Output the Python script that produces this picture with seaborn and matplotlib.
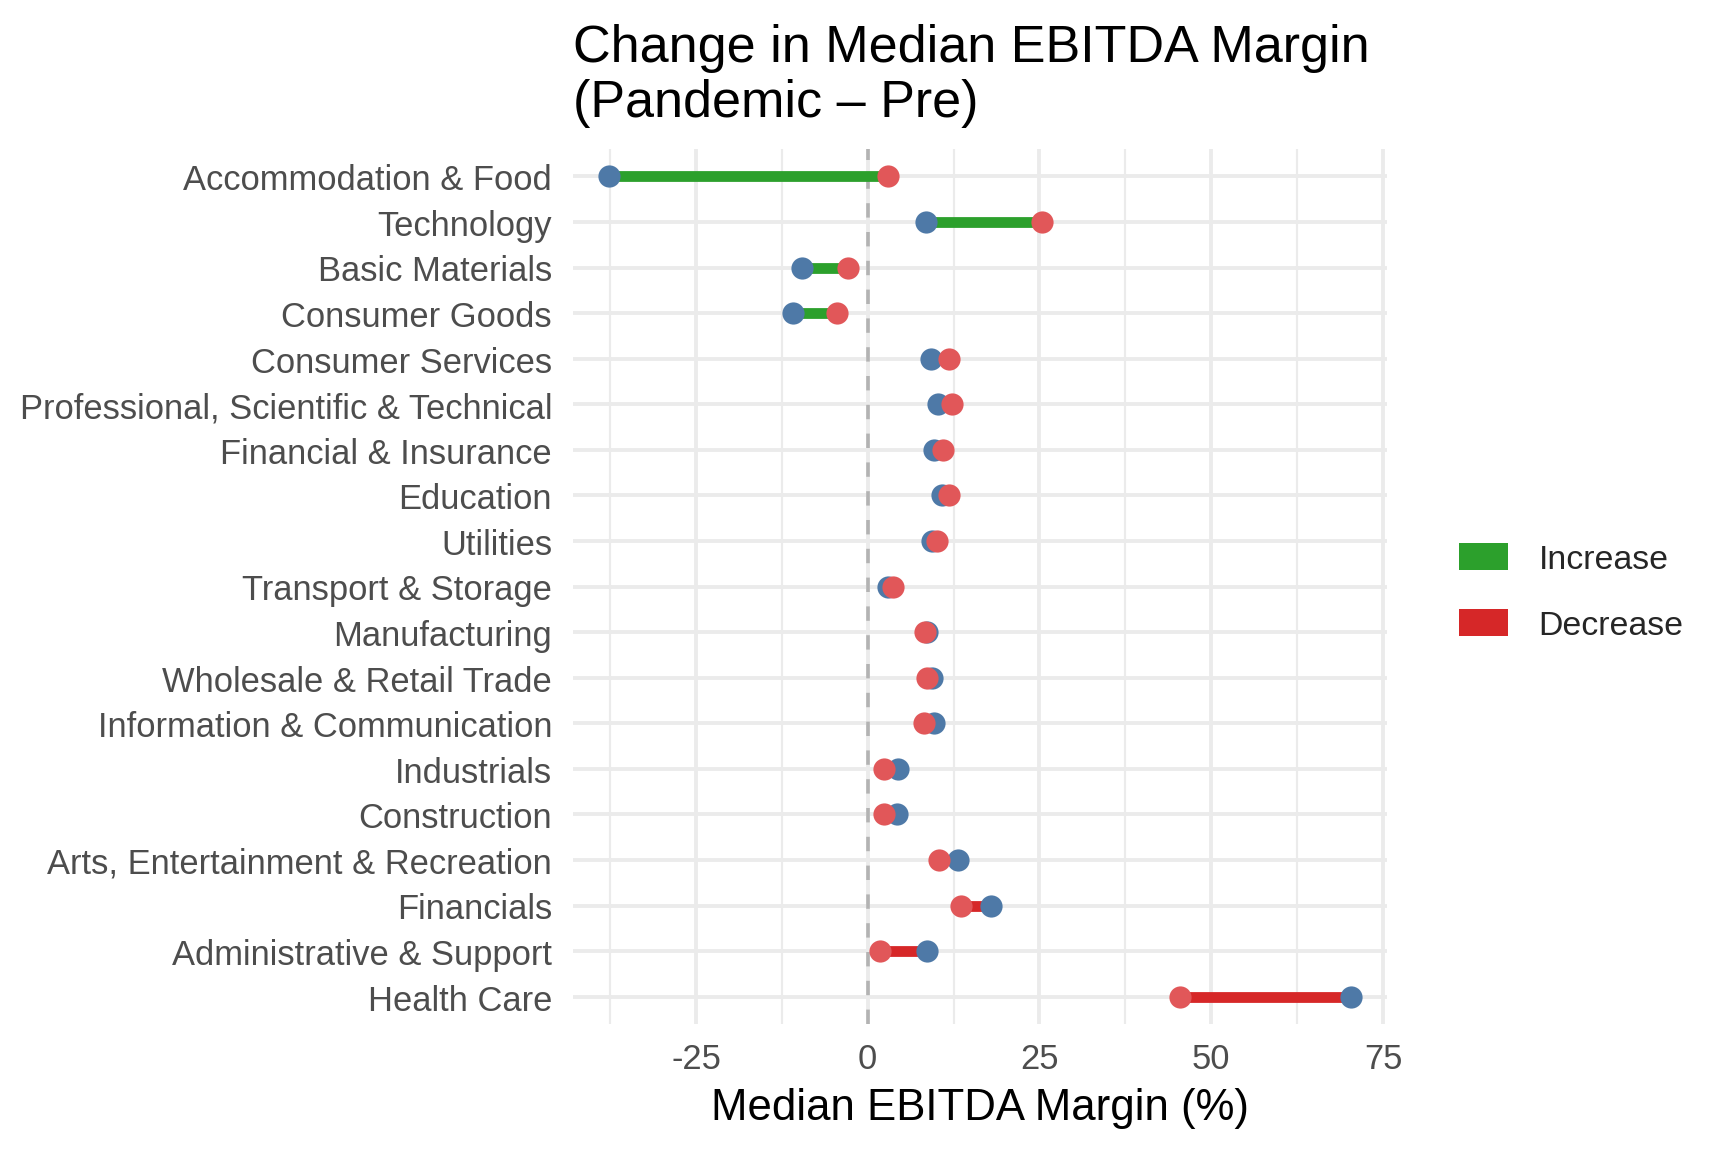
import pandas as pd
import numpy as np
import matplotlib.pyplot as plt
import seaborn as sns
from matplotlib.patches import Patch

sns.set_theme(style="whitegrid")
plt.rcParams['font.family'] = ['Liberation Sans', 'DejaVu Sans']

# %% data
sectors = ['Accommodation & Food', 'Technology', 'Basic Materials', 'Consumer Goods',
           'Consumer Services', 'Professional, Scientific & Technical', 'Financial & Insurance',
           'Education', 'Utilities', 'Transport & Storage', 'Manufacturing',
           'Wholesale & Retail Trade', 'Information & Communication', 'Industrials',
           'Construction', 'Arts, Entertainment & Recreation', 'Financials',
           'Administrative & Support', 'Health Care']
pre = [-37.7, 8.5, -9.5, -10.9, 9.2, 10.3, 9.6, 10.8, 9.3, 2.9, 8.7, 9.3, 9.6,
       4.4, 4.2, 13.2, 18.0, 8.7, 70.4]
pandemic = [2.9, 25.3, -2.8, -4.4, 11.9, 12.2, 11.0, 11.9, 10.1, 3.7, 8.3, 8.7, 8.2,
            2.4, 2.4, 10.4, 13.6, 1.8, 45.5]

df = pd.DataFrame({'sector': sectors, 'pre': pre, 'pandemic': pandemic})
df['change'] = df['pandemic'] - df['pre']
df['direction'] = np.where(df['change'] >= 0, 'Increase', 'Decrease')

seg_cols = {'Increase': '#2CA02C', 'Decrease': '#D62728'}
blue = '#4E79A7'
red = '#E15759'

# %% plot
fig, ax = plt.subplots(figsize=(8, 5.333), dpi=216)
fig.subplots_adjust(left=0.3316, right=0.8027, top=0.8698, bottom=0.1102)

ax.axvline(0, color='#B3B3B3', linestyle=(0, (4, 4)), linewidth=1.2, zorder=1)

ypos = np.arange(len(sectors))
for d, col in seg_cols.items():
    m = (df['direction'] == d).values
    ax.hlines(ypos[m], df['pre'][m], df['pandemic'][m], color=col, linewidth=3.6, zorder=2)

sns.stripplot(data=df, x='pre', y='sector', order=sectors, jitter=False, color=blue,
              size=7.4, linewidth=0, ax=ax, zorder=3)
sns.stripplot(data=df, x='pandemic', y='sector', order=sectors, jitter=False, color=red,
              size=7.4, linewidth=0, ax=ax, zorder=4)

ax.set_xlim(-42.9, 75.6)
ax.set_ylim(len(sectors) - 1 + 0.6, -0.6)
ax.set_xticks([-25, 0, 25, 50, 75])
ax.set_xticks([-37.5, -12.5, 12.5, 37.5, 62.5], minor=True)
ax.set_xticklabels(['-25', '0', '25', '50', '75'])

ax.grid(True, which='major', color='#EBEBEB', linewidth=1.3)
ax.grid(True, which='minor', axis='x', color='#EBEBEB', linewidth=0.7)
ax.set_axisbelow(True)
for s in ax.spines.values():
    s.set_visible(False)
ax.tick_params(axis='both', which='both', length=0, labelsize=11.5, labelcolor='#4D4D4D')
ax.tick_params(axis='y', pad=7)
ax.tick_params(axis='x', pad=6)

ax.set_ylabel('')
ax.set_xlabel('Median EBITDA Margin (%)', fontsize=14.6, color='black', labelpad=4)

fig.text(0.3316, 1 - 24 / 1152, 'Change in Median EBITDA Margin\n(Pandemic \u2013 Pre)',
         ha='left', va='top', fontsize=17.4, color='black', linespacing=1.15)

handles = [Patch(facecolor=seg_cols['Increase'], edgecolor='none', label='Increase'),
           Patch(facecolor=seg_cols['Decrease'], edgecolor='none', label='Decrease')]
fig.legend(handles=handles, loc='center left', bbox_to_anchor=(0.8345, 0.485),
           frameon=False, fontsize=11.3, borderpad=0, handlelength=1.45, handleheight=0.85,
           handletextpad=0.9, labelspacing=1.0)

plt.savefig('out.png', dpi=216)
